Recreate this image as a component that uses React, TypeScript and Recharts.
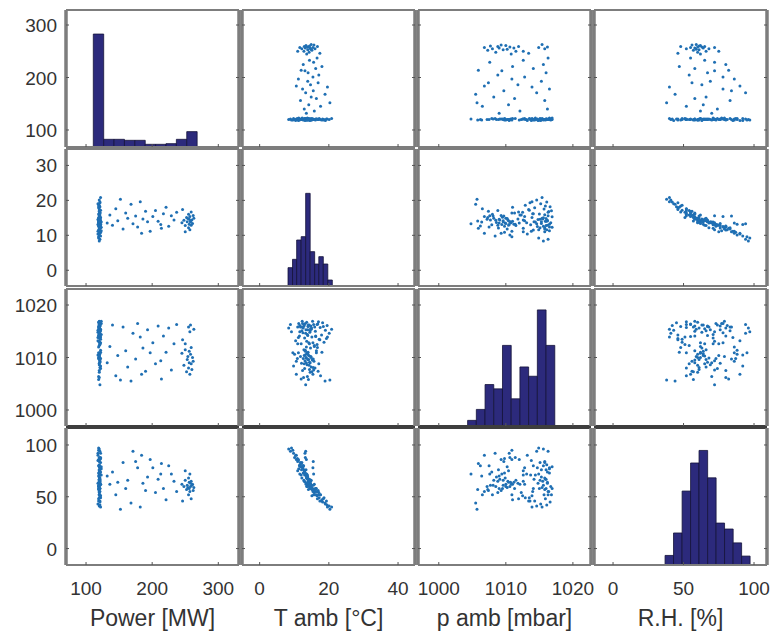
import { ComposedChart, ReferenceArea, Scatter, XAxis, YAxis } from "recharts";

// plant log: one entry per sample, same order in every array
// three operating groups: base load (~120 MW), part load, full load (~255 MW)
const power = [
  120, 121, 119, 122, 120, 118, 121, 120, 123, 119, 120, 121, 122, 120, 119, 121, 120, 118, 122, 120,
  121, 119, 120, 123, 121, 120, 119, 122, 120, 121, 118, 120, 121, 119, 122, 120, 121, 120, 119, 121,
  120, 122, 120, 119, 121, 120, 118, 121, 120, 122, 120, 121, 119, 120, 122, 120, 121, 119, 120, 121,
  120, 122, 119, 120, 121, 120, 119, 121, 120, 122, 120, 121, 119, 120, 121, 120, 118, 123, 120, 121,
  132, 136, 140, 145, 148, 152, 156, 160, 163, 168, 171, 175, 178, 182, 186, 190, 193, 197, 201, 205,
  209, 213, 217, 221, 225, 229, 233, 237, 184, 214,
  245, 248, 250, 252, 253, 254, 255, 255, 256, 256, 257, 257, 258, 258, 259, 259, 260, 261, 262, 246,
  250, 263,
];

const tAmb = [
  8.4, 8.9, 9.2, 9.8, 10.1, 10.4, 10.6, 11.0, 11.3, 11.5, 11.8, 12.0, 12.2, 12.4, 12.6, 12.8, 13.0, 13.1, 13.2, 13.4,
  13.5, 13.6, 13.7, 13.8, 13.9, 14.0, 14.1, 14.2, 14.3, 14.4, 14.5, 14.6, 14.7, 14.9, 15.1, 15.3, 15.5, 15.8, 16.1, 16.4,
  16.8, 17.2, 17.5, 17.9, 18.2, 18.6, 19.0, 19.5, 20.1, 20.8, 12.9, 13.3, 13.8, 14.2, 14.0, 13.6, 14.8, 15.0, 13.2, 12.5,
  11.6, 10.9, 9.6, 15.6, 16.2, 17.0, 18.4, 19.3, 12.1, 13.0, 14.4, 15.2, 13.5, 12.7, 14.6, 13.9, 11.2, 12.3, 15.9, 16.6,
  13.5, 15.8, 12.9, 17.6, 14.2, 20.3, 11.8, 16.4, 14.9, 18.9, 13.3, 15.5, 12.4, 19.6, 14.7, 16.9, 13.9, 11.2, 15.4, 17.1,
  14.0, 13.1, 16.2, 18.0, 12.6, 15.6, 14.4, 16.6, 10.6, 12.0,
  13.6, 14.3, 12.8, 15.1, 13.9, 14.8, 12.2, 16.0, 13.2, 14.6, 11.6, 15.4, 13.8, 14.1, 12.9, 16.7, 14.4, 13.4, 15.7, 17.4,
  11.0, 14.9,
];

const pAmb = [
  1015.6, 1016.3, 1014.9, 1008.4, 1010.6, 1013.2, 1009.3, 1015.8, 1016.5, 1014.1, 1010.2, 1012.6, 1015.1, 1007.5, 1009.8, 1016.0, 1013.7, 1010.5, 1011.4, 1015.3,
  1009.9, 1016.7, 1008.6, 1014.4, 1010.7, 1015.9, 1005.8, 1012.8, 1016.2, 1009.1, 1014.8, 1007.2, 1015.5, 1010.0, 1013.9, 1016.9, 1008.1, 1012.3, 1015.0, 1010.9,
  1016.4, 1013.5, 1015.7, 1014.3, 1016.6, 1012.9, 1015.2, 1016.1, 1014.6, 1015.4, 1010.4, 1004.8, 1006.4, 1009.6, 1011.0, 1013.1, 1016.0, 1015.6, 1016.5, 1014.7,
  1016.1, 1009.8, 1010.9, 1016.3, 1014.0, 1016.8, 1015.9, 1013.6, 1008.9, 1007.9, 1010.3, 1009.5, 1012.0, 1006.2, 1015.1, 1014.2, 1013.8, 1016.9, 1015.8, 1012.5,
  1009.0, 1012.1, 1016.2, 1006.5, 1010.4, 1005.7, 1015.8, 1011.3, 1008.2, 1005.5, 1014.6, 1009.7, 1016.5, 1013.9, 1011.8, 1007.4, 1015.3, 1010.9, 1012.8, 1008.8,
  1016.0, 1009.4, 1014.1, 1011.0, 1015.6, 1007.6, 1012.6, 1016.3, 1006.8, 1005.9,
  1010.8, 1008.5, 1011.5, 1007.3, 1009.6, 1010.2, 1015.8, 1008.0, 1011.2, 1009.0, 1014.9, 1006.8, 1010.6, 1016.2, 1008.8, 1011.9, 1007.7, 1010.0, 1009.3, 1013.4,
  1012.6, 1015.4,
];

const rh = [
  96, 94, 97, 92, 88, 90, 86, 84, 77, 80, 79, 71, 83, 80, 73, 76, 71, 92, 88, 76,
  68, 60, 69, 71, 64, 67, 57, 62, 64, 67, 63, 60, 65, 60, 51, 58, 61, 54, 58, 52,
  55, 49, 52, 46, 45, 49, 43, 42, 41, 40, 75, 72, 70, 66, 62, 72, 58, 61, 73, 78,
  81, 87, 95, 52, 55, 52, 48, 46, 76, 74, 65, 58, 86, 80, 66, 67, 85, 79, 57, 51,
  70, 62, 74, 52, 64, 38, 83, 58, 66, 44, 94, 84, 78, 40, 63, 56, 69, 86, 78, 54,
  67, 72, 58, 47, 80, 72, 65, 55, 90, 82,
  62, 60, 66, 57, 61, 59, 68, 52, 64, 58, 72, 55, 60, 63, 65, 48, 61, 62, 56, 46,
  75, 59,
];

// histogram bins for the diagonal
const powerBinEdges = [111, 126.7, 142.4, 158.1, 173.8, 189.5, 205.2, 220.9, 236.6, 252.3, 268];
const powerCounts = [338, 23, 23, 20, 20, 8, 8, 10, 23, 46];
const tAmbBinEdges = [8.2, 9.5, 10.7, 12.0, 13.3, 14.6, 15.9, 17.1, 18.4, 19.7, 21.0];
const tAmbCounts = [55, 80, 138, 148, 278, 103, 66, 88, 66, 18];
const pAmbBinEdges = [1004.3, 1005.6, 1006.9, 1008.2, 1009.5, 1010.8, 1012.1, 1013.4, 1014.7, 1016.0, 1017.3];
const pAmbCounts = [17, 50, 125, 112, 243, 82, 178, 150, 350, 243];
const rhBinEdges = [36.9, 42.9, 49.0, 55.0, 61.0, 67.1, 73.1, 79.1, 85.2, 91.2, 97.2];
const rhCounts = [29, 97, 224, 309, 347, 264, 127, 109, 67, 27];

const powerTicks = [100, 200, 300];
const tAmbColTicks = [0, 20, 40];
const tAmbRowTicks = [0, 10, 20, 30];
const pAmbTicks = [1000, 1010, 1020];
const rhTicks = [0, 50, 100];

const labels = ["Power [MW]", "T amb [°C]", "p amb [mbar]", "R.H. [%]"];

const variables = [
  { values: power, xDomain: [69.7, 331.3], yDomain: [67.6, 328.6], xTicks: powerTicks, yTicks: powerTicks, edges: powerBinEdges, counts: powerCounts, countMax: 410 },
  { values: tAmb, xDomain: [-5.1, 44.9], yDomain: [-4.5, 34.7], xTicks: tAmbColTicks, yTicks: tAmbRowTicks, edges: tAmbBinEdges, counts: tAmbCounts, countMax: 411 },
  { values: pAmb, xDomain: [996.9, 1022.7], yDomain: [996.95, 1023.05], xTicks: pAmbTicks, yTicks: pAmbTicks, edges: pAmbBinEdges, counts: pAmbCounts, countMax: 413 },
  { values: rh, xDomain: [-13.5, 109.2], yDomain: [-15.9, 116.4], xTicks: rhTicks, yTicks: rhTicks, edges: rhBinEdges, counts: rhCounts, countMax: 415 },
];

const GRID_LEFT = 66;
const GRID_TOP = 10;
const CELL_W = 176;
const CELL_H = 139.3;
const PANEL_W = 173;
const PANEL_H = 137;
// axes get a 1px band so they are drawn; the plot box keeps PANEL_W x PANEL_H
const AXIS_BAND = 1;

const BOX = "#7d7d7d";
const BOX_DARK = "#3e3e3e";
const TICK = "#555";
const TEXT = "#333";
const DOT = "#1f6fb3";
const BAR = "#2c2a7c";
const FONT = "'Liberation Sans', Arial, sans-serif";

const bottomTick = (showLabel: boolean) => (props: any) => {
  const { x, y, payload } = props;
  return (
    <g>
      <line x1={x} x2={x} y1={y} y2={y - 3} stroke={TICK} />
      {showLabel && (
        <text x={x} y={y + 30} textAnchor="middle" fontSize={19} fill={TEXT} fontFamily={FONT}>
          {payload.value}
        </text>
      )}
    </g>
  );
};

const topTick = (props: any) => {
  const { x, y } = props;
  return <line x1={x} x2={x} y1={y} y2={y + 3} stroke={TICK} />;
};

const leftTick = (showLabel: boolean) => (props: any) => {
  const { x, y, payload } = props;
  return (
    <g>
      <line x1={x} x2={x + 3} y1={y} y2={y} stroke={TICK} />
      {showLabel && (
        <text x={x - 9} y={y + 7} textAnchor="end" fontSize={19} fill={TEXT} fontFamily={FONT}>
          {payload.value}
        </text>
      )}
    </g>
  );
};

const rightTick = (props: any) => {
  const { x, y } = props;
  return <line x1={x} x2={x - 3} y1={y} y2={y} stroke={TICK} />;
};

const dot = (props: any) => <circle cx={props.cx} cy={props.cy} r={1.5} fill={DOT} />;

function Panel({ row, col }: { row: number; col: number }) {
  const xv = variables[col];
  const yv = variables[row];
  const diagonal = row === col;
  const points = xv.values.map((v, i) => ({ x: v, y: yv.values[i] }));
  const bottomStroke = row === 2 ? BOX_DARK : BOX;
  const topStroke = row === 3 ? BOX_DARK : BOX;

  return (
    <div
      style={{
        position: "absolute",
        left: GRID_LEFT + col * CELL_W - AXIS_BAND,
        top: GRID_TOP + Math.round(row * CELL_H) - AXIS_BAND,
      }}
    >
      <ComposedChart
        width={PANEL_W + 2 * AXIS_BAND}
        height={PANEL_H + 2 * AXIS_BAND}
        margin={{ top: 0, right: 0, bottom: 0, left: 0 }}
      >
        <XAxis
          xAxisId="b"
          type="number"
          dataKey="x"
          domain={xv.xDomain}
          allowDataOverflow
          ticks={xv.xTicks}
          interval={0}
          height={AXIS_BAND}
          tickSize={0}
          tickMargin={0}
          tickLine={false}
          axisLine={{ stroke: bottomStroke, strokeWidth: 2 }}
          tick={bottomTick(row === 3)}
          label={
            row === 3
              ? { value: labels[col], position: "bottom", offset: 44, fill: TEXT, fontSize: 23, fontFamily: FONT }
              : undefined
          }
        />
        <XAxis
          xAxisId="t"
          orientation="top"
          type="number"
          domain={xv.xDomain}
          allowDataOverflow
          ticks={xv.xTicks}
          interval={0}
          height={AXIS_BAND}
          tickSize={0}
          tickMargin={0}
          tickLine={false}
          axisLine={{ stroke: topStroke, strokeWidth: 2 }}
          tick={topTick}
        />
        <YAxis
          yAxisId="l"
          type="number"
          dataKey="y"
          domain={yv.yDomain}
          allowDataOverflow
          ticks={yv.yTicks}
          interval={0}
          width={AXIS_BAND}
          tickSize={0}
          tickMargin={0}
          tickLine={false}
          axisLine={{ stroke: BOX, strokeWidth: 3.5 }}
          tick={leftTick(col === 0)}
        />
        <YAxis
          yAxisId="r"
          orientation="right"
          type="number"
          domain={yv.yDomain}
          allowDataOverflow
          ticks={yv.yTicks}
          interval={0}
          width={AXIS_BAND}
          tickSize={0}
          tickMargin={0}
          tickLine={false}
          axisLine={{ stroke: BOX, strokeWidth: 3.5 }}
          tick={rightTick}
        />
        {diagonal && (
          <YAxis yAxisId="count" type="number" domain={[0, xv.countMax]} allowDataOverflow hide width={0} />
        )}
        {diagonal
          ? xv.counts.map((c, i) => (
              <ReferenceArea
                key={i}
                xAxisId="b"
                yAxisId="count"
                x1={xv.edges[i]}
                x2={xv.edges[i + 1]}
                y1={0}
                y2={c}
                fill={BAR}
                fillOpacity={1}
                stroke="#14133a"
                strokeWidth={0.8}
                ifOverflow="visible"
              />
            ))
          : (
              <Scatter
                xAxisId="b"
                yAxisId="l"
                data={points}
                shape={dot}
                isAnimationActive={false}
              />
            )}
      </ComposedChart>
    </div>
  );
}

export default function App() {
  const cells = [];
  for (let r = 0; r < 4; r++) {
    for (let c = 0; c < 4; c++) {
      cells.push(<Panel key={`${r}-${c}`} row={r} col={c} />);
    }
  }
  return (
    <div
      style={{
        position: "absolute",
        left: 0,
        top: 0,
        width: 771,
        height: 635,
        background: "#fff",
        fontFamily: FONT,
      }}
    >
      <style>{`.recharts-surface { overflow: visible; }`}</style>
      {cells}
    </div>
  );
}
